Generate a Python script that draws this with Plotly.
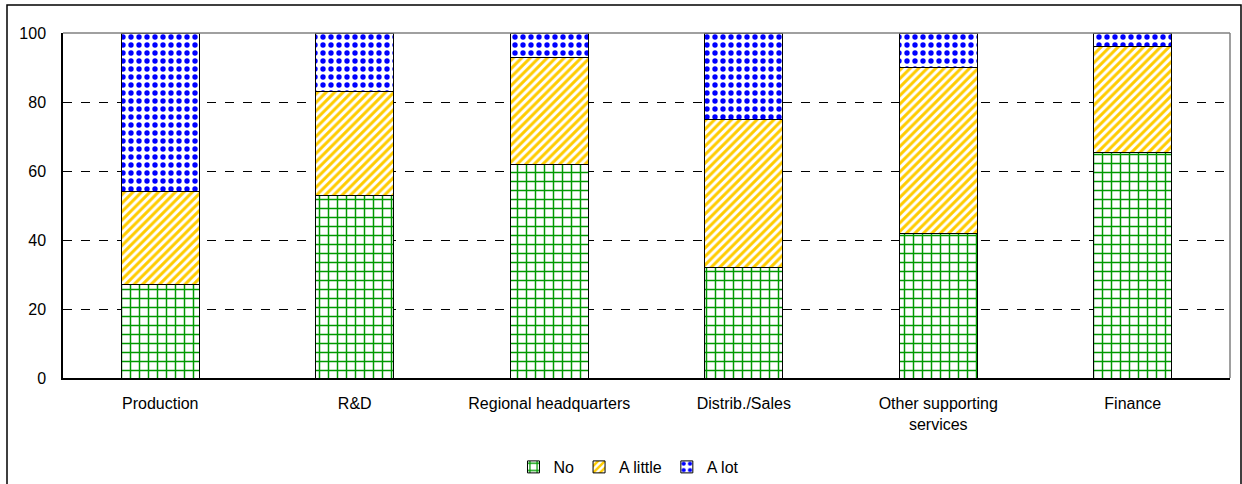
import plotly.graph_objects as go

categories = ["Production", "R&D", "Regional headquarters", "Distrib./Sales",
              "Other supporting<br>services", "Finance"]
no_vals = [27, 53, 62, 32, 42, 65.5]
little_vals = [27, 30, 31, 43, 48, 30.5]
lot_vals = [46, 17, 7, 25, 10, 4]
y_ticks = [0, 20, 40, 60, 80, 100]

W, H = 1242, 484
L, R, T, B = 63, 12, 33, 106
pw, ph = W - L - R, H - T - B

fig = go.Figure()
series = [
    ("No", no_vals, "#009900", "+", 9, 0.3),
    ("A little", little_vals, "#FFCC00", "/", 6, 0.5),
    ("A lot", lot_vals, "#0000FF", ".", 8, 0.35),
]
for name, vals, col, shp, sz, sol in series:
    fig.add_trace(go.Bar(
        name=name, x=categories, y=vals,
        marker=dict(color="white",
                    line=dict(color="black", width=1),
                    pattern=dict(shape=shp, fgcolor=col, bgcolor="white", fgopacity=1,
                                 size=sz, solidity=sol, fillmode="replace")),
    ))

def px_x(p):
    return (p - L) / pw

def px_y(p):
    return (H - B - p) / ph

fig.update_layout(
    barmode="stack", bargap=0.6,
    width=W, height=H,
    margin=dict(l=L, r=R, t=T, b=B, autoexpand=False),
    paper_bgcolor="white", plot_bgcolor="white",
    font=dict(family="Liberation Sans, Arial", size=16, color="black"),
    showlegend=True,
    legend=dict(orientation="h", x=0.485, xanchor="center", y=px_y(467), yanchor="middle",
                font=dict(size=16), itemwidth=30, traceorder="normal"),
    shapes=[
        dict(type="rect", xref="paper", yref="paper",
             x0=px_x(7), x1=px_x(1241), y0=px_y(5), y1=px_y(490),
             line=dict(color="black", width=1.5), layer="below"),
        dict(type="line", xref="paper", yref="paper", x0=0, x1=1, y0=1, y1=1,
             line=dict(color="#808080", width=1.5)),
        dict(type="line", xref="paper", yref="paper", x0=1, x1=1, y0=0, y1=1,
             line=dict(color="#808080", width=1.5)),
    ],
)
fig.update_yaxes(range=[0, 100], tickvals=y_ticks, showgrid=True,
                 gridcolor="black", griddash="dash", gridwidth=1,
                 showline=True, linecolor="black", linewidth=1.5,
                 ticks="", ticklabelstandoff=12, zeroline=False, fixedrange=True)
fig.update_xaxes(showline=True, linecolor="black", linewidth=1.5, ticks="",
                 ticklabelstandoff=10, showgrid=False, fixedrange=True)

fig.write_html("out.html", config={"displayModeBar": False},
               post_script="document.body.style.margin='0';")
